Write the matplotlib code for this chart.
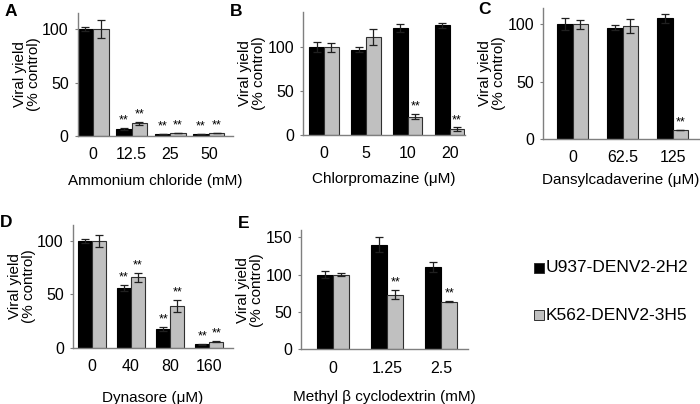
import matplotlib
matplotlib.use("Agg")
import matplotlib.pyplot as plt
from matplotlib.patches import Rectangle

plt.rcParams['font.family'] = ['Liberation Sans', 'DejaVu Sans']

# data
a_labels = ['0', '12.5', '25', '50']
a_u937 = [100, 6.8, 2, 2]
a_u937_err = [2, 0.6, 0.3, 0.3]
a_k562 = [100, 12, 3, 3]
a_k562_err = [8, 1.2, 0.4, 0.4]
a_star_u = [False, True, True, True]
a_star_k = [False, True, True, True]

b_labels = ['0', '5', '10', '20']
b_u937 = [100, 97, 122, 125]
b_u937_err = [6, 3, 5, 3]
b_k562 = [100, 112, 21, 6.5]
b_k562_err = [5, 9, 3, 2]
b_star_u = [False, False, False, False]
b_star_k = [False, False, True, True]

c_labels = ['0', '62.5', '125']
c_u937 = [100, 97, 105]
c_u937_err = [5, 2, 4]
c_k562 = [100, 98.5, 8]
c_k562_err = [4, 6, 0]
c_star_u = [False, False, False]
c_star_k = [False, False, True]

d_labels = ['0', '40', '80', '160']
d_u937 = [100, 56, 17.5, 3.5]
d_u937_err = [2, 3, 2, 0.5]
d_k562 = [100, 66, 39, 5.8]
d_k562_err = [6, 4, 5.5, 0.3]
d_star_u = [False, True, True, True]
d_star_k = [False, True, True, True]

e_labels = ['0', '1.25', '2.5']
e_u937 = [100, 140, 110.5]
e_u937_err = [5, 10, 7]
e_k562 = [100, 73.5, 64]
e_k562_err = [2, 6, 1]
e_star_u = [False, False, False]
e_star_k = [False, True, True]

BLACK = '#000000'
GRAY = '#c0c0c0'
AXC = '#7f7f7f'

fig = plt.figure(figsize=(7, 4.04), dpi=100)


def panel(rect, letter, labels, u, ue, k, ke, su, sk, xlabel, xlim, ylim, yticks, w,
          letter_xy, xlabel_y):
    ax = fig.add_axes(rect)
    x = list(range(len(labels)))
    xu = [i - w / 2 for i in x]
    xk = [i + w / 2 for i in x]
    ax.bar(xu, u, w, color=BLACK, edgecolor=BLACK, linewidth=0.8)
    ax.bar(xk, k, w, color=GRAY, edgecolor='#303030', linewidth=0.8)
    ax.errorbar(xu, u, yerr=ue, fmt='none', ecolor='#202020', elinewidth=0.9, capsize=3, capthick=0.9)
    ax.errorbar(xk, k, yerr=ke, fmt='none', ecolor='#202020', elinewidth=0.9, capsize=3, capthick=0.9)
    off = (ylim[1] - ylim[0]) * 0.012
    for i in x:
        if su[i]:
            ax.text(xu[i], u[i] + ue[i] + off, '**', ha='center', va='bottom', fontsize=9)
        if sk[i]:
            ax.text(xk[i], k[i] + ke[i] + off, '**', ha='center', va='bottom', fontsize=9)
    ax.set_xlim(*xlim)
    ax.set_ylim(*ylim)
    ax.set_yticks(yticks)
    ax.set_xticks(x)
    ax.set_xticklabels(labels)
    ax.tick_params(axis='y', length=2.5, width=0.8, color=AXC, labelsize=11.5, pad=4)
    ax.tick_params(axis='x', length=0, labelsize=11.5, pad=8)
    for s in ['top', 'right']:
        ax.spines[s].set_visible(False)
    for s in ['left', 'bottom']:
        ax.spines[s].set_color(AXC)
        ax.spines[s].set_linewidth(1.0)
    ax.set_ylabel('Viral yield\n(% control)', fontsize=11, labelpad=1, linespacing=1.0)
    ax.text(0.5, xlabel_y, xlabel, transform=ax.transAxes, ha='center', va='center', fontsize=11)
    fig.text(letter_xy[0], letter_xy[1], letter, fontsize=12.5, fontweight='bold', ha='left', va='top')
    return ax


panel([0.111, 0.663, 0.222, 0.305], 'A', a_labels, a_u937, a_u937_err, a_k562, a_k562_err,
      a_star_u, a_star_k, 'Ammonium chloride (mM)', (-0.40, 3.63), (0, 115), [0, 50, 100], 0.40,
      (0.007, 0.99), -0.36)
panel([0.433, 0.666, 0.231, 0.304], 'B', b_labels, b_u937, b_u937_err, b_k562, b_k562_err,
      b_star_u, b_star_k, 'Chlorpromazine (\u03bcM)', (-0.5, 3.36), (0, 140), [0, 50, 100], 0.35,
      (0.329, 0.99), -0.36)
panel([0.776, 0.656, 0.222, 0.324], 'C', c_labels, c_u937, c_u937_err, c_k562, c_k562_err,
      c_star_u, c_star_k, 'Dansylcadaverine (\u03bcM)', (-0.59, 2.52), (0, 114), [0, 50, 100], 0.31,
      (0.683, 0.995), -0.31)
panel([0.104, 0.139, 0.229, 0.304], 'D', d_labels, d_u937, d_u937_err, d_k562, d_k562_err,
      d_star_u, d_star_k, 'Dynasore (\u03bcM)', (-0.49, 3.61), (0, 115), [0, 50, 100], 0.36,
      (0.0, 0.468), -0.41)
panel([0.430, 0.135, 0.239, 0.296], 'E', e_labels, e_u937, e_u937_err, e_k562, e_k562_err,
      e_star_u, e_star_k, 'Methyl \u03b2 cyclodextrin (mM)', (-0.59, 2.5), (0, 160), [0, 50, 100, 150], 0.30,
      (0.340, 0.465), -0.40)

# legend drawn as squares with text
legend_names = ['U937-DENV2-2H2', 'K562-DENV2-3H5']
legend_colors = [BLACK, GRAY]
for i, (name, col) in enumerate(zip(legend_names, legend_colors)):
    yy = 0.338 - i * 0.118
    fig.patches.append(Rectangle((0.763, yy - 0.013), 0.014, 0.025, transform=fig.transFigure,
                                 facecolor=col, edgecolor='#303030', linewidth=0.7))
    fig.text(0.779, yy, name, fontsize=12.5, ha='left', va='center')

fig.savefig('out.png', dpi=100)
